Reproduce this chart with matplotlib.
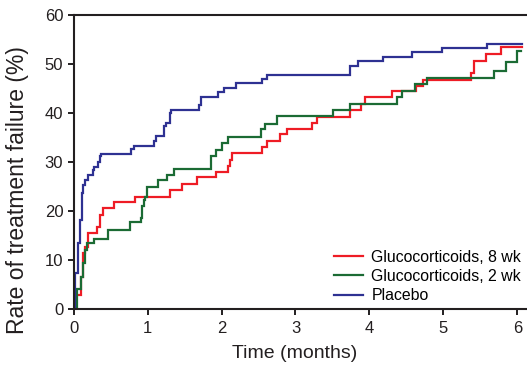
import numpy as np
import matplotlib
matplotlib.use('Agg')
import matplotlib.pyplot as plt

# Kaplan-Meier style cumulative failure (%)
t_gc8 = [0, 0.02, 0.10, 0.125, 0.15, 0.20, 0.32, 0.36, 0.40, 0.55, 0.83, 1.30, 1.46,
         1.67, 1.93, 2.09, 2.11, 2.14, 2.55, 2.62, 2.79, 2.88, 3.22, 3.29, 3.74,
         3.88, 3.94, 4.31, 4.63, 4.72, 5.38, 5.41, 5.58, 5.78, 6.06]
y_gc8 = [0, 3.0, 6.7, 11.5, 12.8, 15.5, 16.8, 19.3, 20.6, 22.0, 23.0, 24.4, 25.6,
         26.9, 28.0, 29.3, 30.5, 31.8, 33.1, 34.4, 35.8, 36.8, 38.0, 39.2, 40.6,
         41.9, 43.3, 44.5, 45.6, 46.8, 48.2, 50.7, 52.0, 53.5, 53.5]

t_gc2 = [0, 0.04, 0.094, 0.126, 0.157, 0.18, 0.28, 0.46, 0.76, 0.91, 0.92, 0.95,
         0.97, 0.995, 1.14, 1.26, 1.355, 1.86, 1.92, 2.0, 2.09, 2.53, 2.59, 2.75,
         3.51, 3.74, 4.37, 4.44, 4.61, 4.78, 5.69, 5.85, 6.0, 6.05]
y_gc2 = [0, 4.1, 6.7, 9.4, 12.1, 13.5, 14.3, 16.1, 17.9, 18.6, 21.0, 22.3,
         23.0, 24.9, 26.3, 27.4, 28.6, 31.3, 32.5, 34.0, 35.2, 36.7, 37.9, 39.5,
         40.7, 41.9, 43.3, 44.5, 46.0, 47.1, 48.7, 50.5, 52.6, 52.6]

t_pbo = [0, 0.02, 0.058, 0.085, 0.11, 0.128, 0.157, 0.20, 0.26, 0.28, 0.33, 0.35,
         0.37, 0.78, 0.82, 1.085, 1.11, 1.22, 1.25, 1.30, 1.32, 1.70, 1.72, 1.95,
         2.03, 2.19, 2.55, 2.62, 3.74, 3.85, 4.18, 4.57, 4.98, 5.59, 6.06]
y_pbo = [0, 7.5, 13.6, 18.2, 23.7, 25.4, 26.4, 27.4, 28.4, 29.1, 30.1, 31.2,
         31.7, 32.7, 33.4, 34.4, 35.4, 37.4, 38.0, 40.0, 40.7, 41.7, 43.3, 44.3,
         45.2, 46.1, 47.0, 47.8, 49.6, 50.7, 51.5, 52.4, 53.2, 54.2, 54.2]

labels = ['Glucocorticoids, 8 wk', 'Glucocorticoids, 2 wk', 'Placebo']
colors = ['#ee1c25', '#1b6b34', '#2e3192']

plt.rcParams['font.family'] = ['Liberation Sans', 'DejaVu Sans']
txt_c = '#231f20'

fig = plt.figure(figsize=(5.27, 3.68), dpi=100)
ax = fig.add_axes([0.1398, 0.159, 0.860, 0.800])

for t, y, lab, c in zip([t_gc8, t_gc2, t_pbo], [y_gc8, y_gc2, y_pbo], labels, colors):
    ax.step(t, y, where='post', color=c, lw=1.6, label=lab, solid_joinstyle='miter')

ax.set_xlim(0, 6.13)
ax.set_ylim(0, 60)
ax.set_xticks(range(0, 7))
ax.set_yticks(range(0, 61, 10))

for s in ['left', 'bottom', 'top']:
    ax.spines[s].set_linewidth(1.5)
    ax.spines[s].set_color(txt_c)
ax.spines['right'].set_visible(False)
ax.tick_params(axis='both', direction='out', length=4.5, width=1.4, color=txt_c,
               labelsize=12, labelcolor=txt_c)
ax.tick_params(axis='x', pad=4)
ax.tick_params(axis='y', pad=3)
ax.tick_params(top=False, right=False)

ax.set_xlabel('Time (months)', fontsize=14, color=txt_c)
ax.set_ylabel('Rate of treatment failure (%)', fontsize=16.5, color=txt_c)
ax.xaxis.set_label_coords(0.488, -0.122)
ax.yaxis.set_label_coords(-0.098, 0.405)

ax.legend(frameon=False, loc='lower right', bbox_to_anchor=(1.012, -0.017),
          fontsize=11.4, handlelength=1.85, handletextpad=0.5, labelspacing=0.28,
          borderaxespad=0.3)

fig.savefig('out.png', dpi=100)
plt.close(fig)
